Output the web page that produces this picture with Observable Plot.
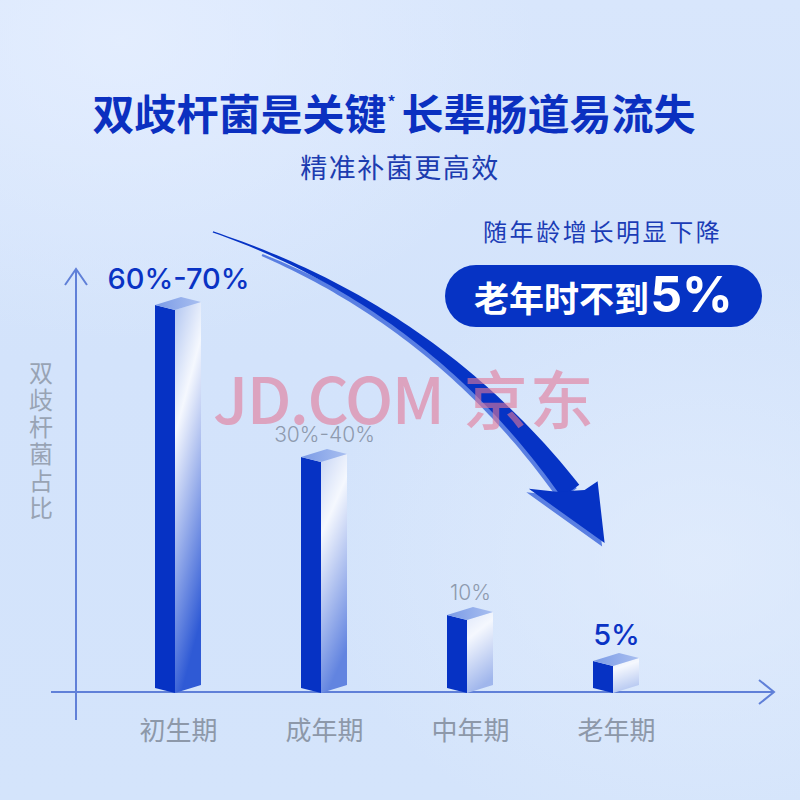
<!DOCTYPE html>
<html>
<head>
<meta charset="utf-8">
<script src="https://cdn.jsdelivr.net/npm/d3@7"></script>
<script src="https://cdn.jsdelivr.net/npm/@observablehq/plot@0.6"></script>
<style>
  html, body { margin: 0; padding: 0; }
  body { width: 800px; height: 800px; overflow: hidden; }
  #page {
    position: relative; width: 800px; height: 800px; overflow: hidden;
    background:
      radial-gradient(ellipse 420px 300px at 120px 40px, rgba(230,239,255,0.8), rgba(230,239,255,0) 100%),
      radial-gradient(ellipse 380px 300px at 700px 560px, rgba(228,238,253,0.7), rgba(228,238,253,0) 100%),
      linear-gradient(180deg, #d8e6fc 0%, #d3e3fb 45%, #d4e4fb 100%);
    font-family: "Noto Sans CJK SC", "Noto Sans", sans-serif;
  }
  #chart { position: absolute; left: 0; top: 0; }
  .ov { position: absolute; white-space: nowrap; line-height: 1; }
  #title { left: 0; width: 788px; top: 91px; text-align: center; font-size: 42px; font-weight: 700; color: #0b30c0; }
  #title sup { font-size: 16px; vertical-align: top; position: relative; top: 2px; margin: 0 6px 0 1px; }
  #subtitle { left: 0; width: 800px; top: 153px; text-align: center; font-size: 27px; font-weight: 400; color: #1c3cb0; letter-spacing: 1.5px; }
  #note { left: 483px; top: 219px; font-size: 24px; color: #1b3cb6; letter-spacing: 2.6px; }
  #pill { left: 445px; top: 265px; width: 317px; height: 62px; border-radius: 31px; background: #0633c4;
          display: flex; align-items: center; justify-content: center; color: #fff; font-weight: 700; }
  #pill .cn { font-size: 35px; }
  #pill .num { font-family: Inter, "Noto Sans", sans-serif; font-size: 50px; font-weight: 700; margin-left: 1px; position: relative; top: -2px; }
  #wm { left: 213px; top: 372px; font-size: 64px; line-height: 0.78; font-weight: 500; letter-spacing: -1.5px; color: rgba(226,120,152,0.6); pointer-events: none; }
  #wm .cn { letter-spacing: 2px; margin-left: 4px; }
</style>
</head>
<body>
<div id="page">
  <div id="chart"></div>
  <div class="ov" id="title">双歧杆菌是关键<sup>*</sup>长辈肠道易流失</div>
  <div class="ov" id="subtitle">精准补菌更高效</div>
  <div class="ov" id="note">随年龄增长明显下降</div>
  <div class="ov" id="pill"><span class="cn">老年时不到</span><span class="num">5%</span></div>
  <div class="ov" id="wm">JD.COM<span class="cn"> 京东</span></div>
</div>
<script>
// ---- data ----
const categories = ["初生期", "成年期", "中年期", "老年期"];
const barHeights = [65, 39.2, 12.4, 4.6];           // bar heights as drawn (relative units)
const valueLabels = ["60%-70%", "30%-40%", "10%", "5%"];
const highlighted = [true, false, false, true];
const yAxisLabel = "双歧杆菌占比";
// arrow annotation in chart units: u = category index, v = value units
const arrowCurveU = [0.239, 1.747, 2.689];
const arrowCurveV = [77.4, 64.7, 33.4];
const arrowHeadU = [2.594, 2.403, 2.922, 2.874, 2.785];
const arrowHeadV = [33.3, 33.8, 24.6, 35.1, 33.6];

const data = categories.map((c, i) => ({cat: c, h: barHeights[i], label: valueLabels[i], hl: highlighted[i]}));
const yMax = d3.max(barHeights);

function stepOf(sx) {
  return sx(categories[1]) - sx(categories[0]);
}

// axes with arrowheads
function axesMark(index, scales, values, dim) {
  const g = d3.create("svg:g");
  const y0 = scales.y(0) + 4;
  const ax = dim.marginLeft - 28;
  const yTop = scales.y(yMax);
  const col = "#6080d8";
  g.append("path")
    .attr("d", `M${ax},${y0 + 28}V${yTop - 36}M${ax - 11},${yTop - 20}L${ax},${yTop - 36}L${ax + 11},${yTop - 20}`)
    .attr("fill", "none").attr("stroke", col).attr("stroke-width", 2);
  const xr = dim.width - dim.marginRight + 84;
  g.append("path")
    .attr("d", `M${ax - 25},${y0}H${xr}M${xr - 15},${y0 - 12}L${xr},${y0}L${xr - 15},${y0 + 12}`)
    .attr("fill", "none").attr("stroke", col).attr("stroke-width", 2);
  // y axis label (vertical)
  g.append("text")
    .attr("x", ax - 35).attr("y", yTop + 137)
    .attr("writing-mode", "vertical-rl")
    .style("writing-mode", "vertical-rl")
    .attr("letter-spacing", 3)
    .attr("fill", "#98a3b4").attr("font-size", 24)
    .attr("font-family", "'Noto Sans CJK SC', sans-serif")
    .text(yAxisLabel);
  return g.node();
}

// 3D bars
function barsMark(index, scales, values, dim) {
  const sx = scales.x, sy = scales.y;
  const g = d3.create("svg:g");
  const defs = g.append("defs");
  const tg = defs.append("linearGradient").attr("id", "topg").attr("x1", 0).attr("x2", 1).attr("y1", 0).attr("y2", 0);
  tg.append("stop").attr("offset", 0).attr("stop-color", "#7b9be6");
  tg.append("stop").attr("offset", 1).attr("stop-color", "#a9bff0");
  const fw = 20, sw = 26, drop = 5, rise = 3;
  data.forEach((d, i) => {
    const t = d.h / yMax;
    const sg = defs.append("linearGradient").attr("id", "side" + i).attr("x1", 0).attr("x2", 0.25).attr("y1", 0).attr("y2", 1);
    sg.append("stop").attr("offset", 0).attr("stop-color", d3.interpolateRgb("#e9effc", "#b2c6f1")(t));
    sg.append("stop").attr("offset", 0.32).attr("stop-color", "#f5f8fe");
    sg.append("stop").attr("offset", 1).attr("stop-color", d3.interpolateRgb("#c9d7f5", "#2f5ad5")(Math.pow(t, 0.8)));
    const cx = sx(d.cat);
    const yt = sy(d.h), yb = sy(0);
    const xl = cx - 23, xf = xl + fw, xr = xf + sw;
    // front face
    g.append("path").attr("d", `M${xl},${yt}L${xf},${yt + drop}L${xf},${yb + drop}L${xl},${yb}Z`).attr("fill", "#0632c4");
    // side face
    g.append("path").attr("d", `M${xf},${yt + drop}L${xr},${yt - rise}L${xr},${yb - rise}L${xf},${yb + drop}Z`)
      .attr("fill", `url(#side${i})`);
    // top face
    g.append("path").attr("d", `M${xl},${yt}L${xf},${yt + drop}L${xr},${yt - rise}L${xl + sw},${yt - rise - drop}Z`)
      .attr("fill", "url(#topg)");
  });
  return g.node();
}

// curved arrow
function arrowMark(index, scales, values, dim) {
  const sx = scales.x, sy = scales.y;
  const step = stepOf(sx);
  const c0 = sx(categories[0]);
  const P = (u, v) => [c0 + u * step, sy(v)];
  const [p0, p1, p2] = arrowCurveU.map((u, i) => P(u, arrowCurveV[i]));
  function shaftFrom(t0) {
    const N = 60, left = [], right = [];
    for (let k = 0; k <= N; k++) {
      const t = t0 + (1 - t0) * k / N, a = (1 - t) * (1 - t), b = 2 * t * (1 - t), c = t * t;
      const x = a * p0[0] + b * p1[0] + c * p2[0];
      const y = a * p0[1] + b * p1[1] + c * p2[1];
      const dx = 2 * (1 - t) * (p1[0] - p0[0]) + 2 * t * (p2[0] - p1[0]);
      const dy = 2 * (1 - t) * (p1[1] - p0[1]) + 2 * t * (p2[1] - p1[1]);
      const L = Math.hypot(dx, dy), nx = -dy / L, ny = dx / L;
      const w = (1.2 + 20.5 * Math.pow(t, 1.35)) / 2;
      left.push([x + nx * w, y + ny * w]);
      right.push([x - nx * w, y - ny * w]);
    }
    return left.concat(right.reverse());
  }
  const head = arrowHeadU.map((u, i) => P(u, arrowHeadV[i]));
  const poly = pts => "M" + pts.map(p => p.join(",")).join("L") + "Z";
  const g = d3.create("svg:g");
  const sh = g.append("g").attr("transform", "translate(-2.5,3.5)").attr("fill", "#5a7fe2");
  sh.append("path").attr("d", poly(shaftFrom(0.12)));
  sh.append("path").attr("d", poly(head));
  const mn = g.append("g").attr("fill", "#0633c5");
  mn.append("path").attr("d", poly(shaftFrom(0)));
  mn.append("path").attr("d", poly(head));
  return g.node();
}

const chart = Plot.plot({
  width: 800,
  height: 800,
  marginLeft: 104,
  marginRight: 110,
  marginTop: 305,
  marginBottom: 112,
  x: {type: "point", domain: categories, padding: 0.5, axis: null},
  y: {domain: [0, yMax], axis: null},
  style: {background: "transparent", overflow: "visible"},
  marks: [
    axesMark,
    barsMark,
    arrowMark,
    Plot.text(data.filter(d => d.hl), {
      x: "cat", y: "h", text: "label", dy: -26,
      fill: "#0a33c4", fontSize: 29, fontWeight: 500,
      fontFamily: "Inter, 'Noto Sans', sans-serif"
    }),
    Plot.text(data.filter(d => !d.hl), {
      x: "cat", y: "h", text: "label", dy: -22,
      fill: "#8e9aae", fontSize: 21, fontWeight: 300,
      fontFamily: "Inter, 'Noto Sans', sans-serif"
    }),
    Plot.text(data, {
      x: "cat", y: () => 0, text: "cat", dy: 43,
      fill: "#8d98a9", fontSize: 26,
      fontFamily: "'Noto Sans CJK SC', sans-serif"
    })
  ]
});
document.getElementById("chart").appendChild(chart);
</script>
</body>
</html>
